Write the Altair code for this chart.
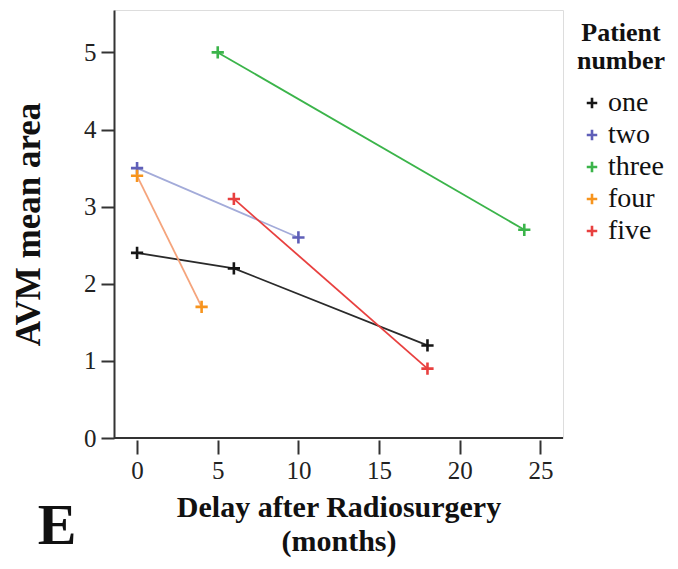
import altair as alt
import pandas as pd

patients = ["one", "two", "three", "four", "five"]
months_one = [0, 6, 18]
area_one = [2.4, 2.2, 1.2]
months_two = [0, 10]
area_two = [3.5, 2.6]
months_three = [5, 24]
area_three = [5.0, 2.7]
months_four = [0, 4]
area_four = [3.4, 1.7]
months_five = [6, 18]
area_five = [3.1, 0.9]

marker_colors = ["#161616", "#5f5fb8", "#3bb44a", "#f7941d", "#e8403f"]
line_colors = ["#2a2a2a", "#a3abd9", "#3bb44a", "#f5a47c", "#e8403f"]

rows = []
series = [
    (months_one, area_one),
    (months_two, area_two),
    (months_three, area_three),
    (months_four, area_four),
    (months_five, area_five),
]
for i, (ms, ars) in enumerate(series):
    for m, a in zip(ms, ars):
        rows.append({"patient": patients[i], "months": m, "area": a,
                     "lc": line_colors[i], "order": i})
df = pd.DataFrame(rows)

font = "Liberation Serif"
xs = alt.Scale(domain=[-1.43, 26.4], nice=False, zero=False)
ys = alt.Scale(domain=[0, 5.55], nice=False)

base = alt.Chart(df)

lines = base.mark_line(strokeWidth=1.8).encode(
    x=alt.X("months:Q", scale=xs,
            axis=alt.Axis(values=[0, 5, 10, 15, 20, 25], domain=False, offset=2,
                          tickSize=14, tickWidth=2, tickColor="#333", format="d",
                          labelFont=font, labelFontSize=25, labelColor="#222",
                          labelPadding=4, grid=False,
                          title=["Delay after Radiosurgery", "(months)"],
                          titleFont=font, titleFontSize=30, titleFontWeight="bold",
                          titleColor="#111", titlePadding=9, titleLineHeight=34)),
    y=alt.Y("area:Q", scale=ys,
            axis=alt.Axis(values=[0, 1, 2, 3, 4, 5], domainWidth=2, domainColor="#333",
                          tickSize=13, tickWidth=2, tickColor="#333", format="d",
                          labelFont=font, labelFontSize=25, labelColor="#222",
                          labelPadding=5, grid=False,
                          title="AVM mean area", titleFont=font, titleFontSize=35,
                          titleFontWeight="bold", titleColor="#111", titlePadding=37)),
    color=alt.Color("lc:N", scale=None),
    detail="patient:N",
)

plus = "M-1,0H1M0,-1V1"
points = base.mark_point(shape=plus, size=150, strokeWidth=2.6, filled=False, opacity=1).encode(
    x=alt.X("months:Q", scale=xs),
    y=alt.Y("area:Q", scale=ys),
    color=alt.Color("patient:N",
                    scale=alt.Scale(domain=patients, range=marker_colors),
                    legend=alt.Legend(title=["Patient", "number"], titleFont=font,
                                      titleFontSize=26, titleFontWeight="bold",
                                      titleColor="#111", titleAlign="center",
                                      titleAnchor="middle", titlePadding=15,
                                      titleLineHeight=28,
                                      labelFont=font, labelFontSize=28, labelColor="#111",
                                      labelOffset=2,
                                      symbolType=plus, symbolSize=110, symbolStrokeWidth=2.6,
                                      rowPadding=4, orient="none", legendX=463, legendY=10)),
)

xline = alt.Chart(pd.DataFrame({"v": [0]})).mark_rule(color="#333", strokeWidth=2).encode(
    y=alt.Y("v:Q", scale=ys), x=alt.value(0), x2=alt.value(449)
)

label = alt.Chart(pd.DataFrame({"t": ["E"]})).mark_text(
    font=font, fontSize=58, fontWeight="bold", color="#111", align="center",
    baseline="alphabetic"
).encode(text="t:N", x=alt.value(-57), y=alt.value(534))

chart = alt.layer(lines, xline, points, label).properties(
    width=449, height=428,
    padding={"left": 106, "top": 2, "right": 107, "bottom": 123},
    autosize=alt.AutoSizeParams(type="none"),
).configure_view(stroke=None).configure(background="white")

chart.save("out.html", embed_options={"renderer": "svg", "actions": False})
